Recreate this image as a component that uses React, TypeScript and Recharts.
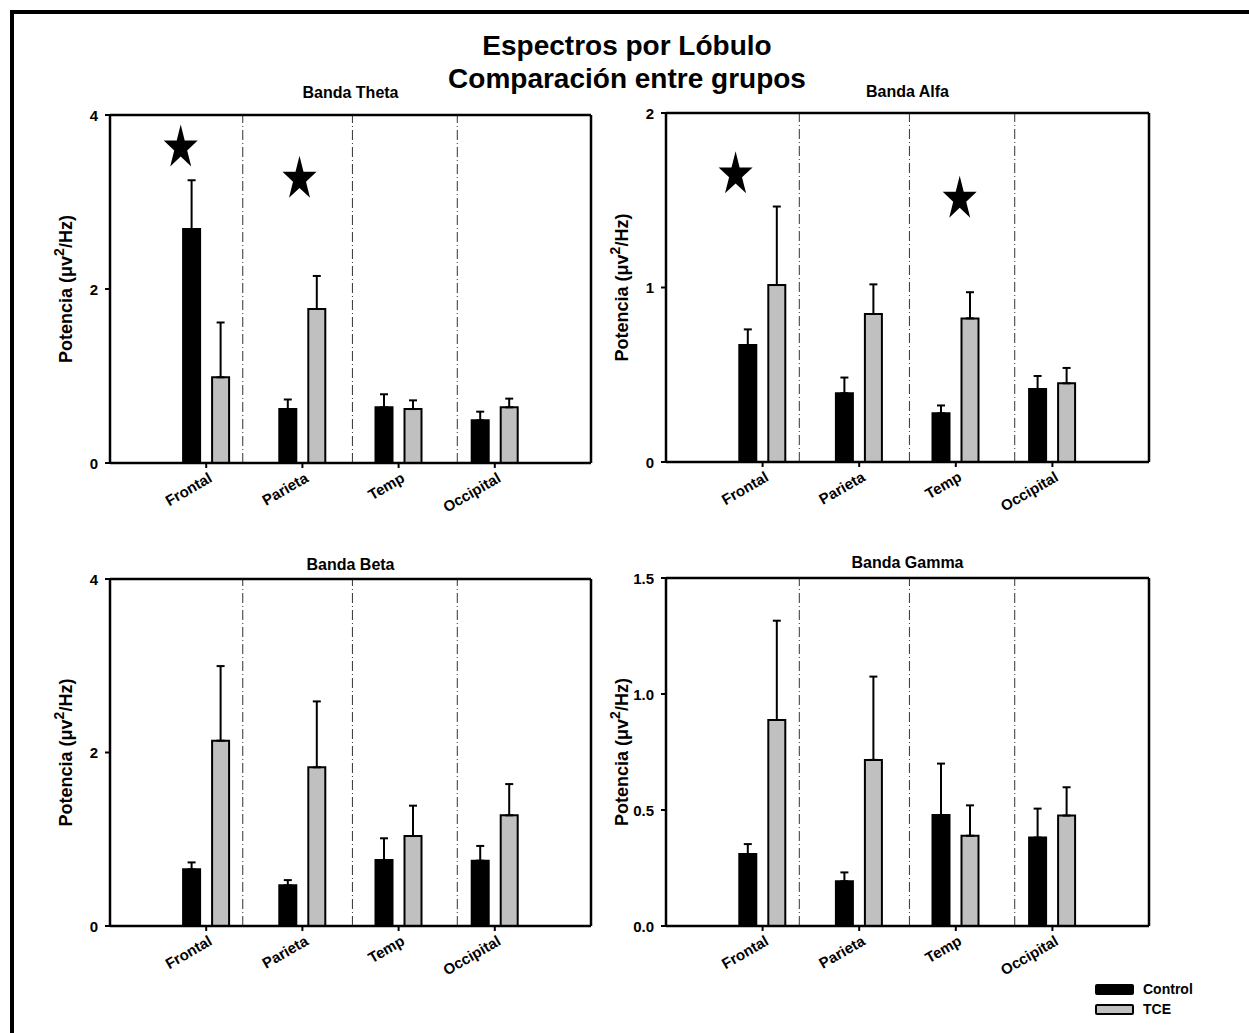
import React from "react";
import { BarChart, Bar, XAxis, YAxis, ErrorBar, ReferenceLine, ReferenceDot } from "recharts";

const FONT = '"Liberation Sans", Arial, Helvetica, sans-serif';

const lobes = ["Frontal", "Parieta", "Temp", "Occipital"];

// Banda Theta
const thetaControl = [2.69, 0.62, 0.64, 0.49];
const thetaControlErr = [0.56, 0.11, 0.15, 0.1];
const thetaTce = [0.985, 1.77, 0.62, 0.64];
const thetaTceErr = [0.63, 0.38, 0.1, 0.1];

// Banda Alfa
const alfaControl = [0.67, 0.394, 0.279, 0.418];
const alfaControlErr = [0.09, 0.09, 0.045, 0.075];
const alfaTce = [1.014, 0.848, 0.823, 0.451];
const alfaTceErr = [0.45, 0.17, 0.15, 0.088];

// Banda Beta
const betaControl = [0.653, 0.469, 0.761, 0.753];
const betaControlErr = [0.08, 0.06, 0.25, 0.17];
const betaTce = [2.136, 1.829, 1.037, 1.276];
const betaTceErr = [0.86, 0.76, 0.35, 0.36];

// Banda Gamma
const gammaControl = [0.31, 0.193, 0.478, 0.381];
const gammaControlErr = [0.043, 0.038, 0.222, 0.125];
const gammaTce = [0.888, 0.716, 0.389, 0.476];
const gammaTceErr = [0.428, 0.359, 0.131, 0.122];

// significance stars (x in category units, 1 = Frontal ... 4 = Occipital)
const thetaStars = [
  { x: 0.735, y: 3.65 },
  { x: 1.97, y: 3.29 },
];
const alfaStars = [
  { x: 0.72, y: 1.66 },
  { x: 3.04, y: 1.52 },
];

// dash-dot separators between lobes
const dividers = [1.38, 2.52, 3.61];

const YW = 70;
const MR = 10;
const MT = 35;
const XH = 55;
const MB = 5;

const buildRows = (control: number[], controlErr: number[], tce: number[], tceErr: number[]) =>
  lobes.map((lobe, i) => ({
    lobe,
    pos: i + 1,
    control: control[i],
    controlErr: [0, controlErr[i]],
    tce: tce[i],
    tceErr: [0, tceErr[i]],
  }));

const StarShape = (props: any) => {
  const { cx, cy } = props;
  const w = 34;
  const h = 42;
  const pts: string[] = [];
  for (let k = 0; k < 10; k++) {
    const a = ((-90 + 36 * k) * Math.PI) / 180;
    const r = k % 2 === 0 ? 1 : 0.382;
    const x = cx + ((r * Math.cos(a)) / 0.951) * (w / 2);
    const y = cy + ((r * Math.sin(a) + 0.0955) / 1.809) * h;
    pts.push(`${x.toFixed(1)},${y.toFixed(1)}`);
  }
  return <polygon points={pts.join(" ")} fill="#000" stroke="none" />;
};

const LobeTick = (props: any) => {
  const { x, y, payload } = props;
  return (
    <g transform={`translate(${x},${y})`}>
      <text
        x={7}
        y={11}
        textAnchor="end"
        transform="rotate(-30 7 11)"
        fill="#000"
        style={{ fontFamily: FONT, fontWeight: 700, fontSize: 15 }}
      >
        {payload.value}
      </text>
    </g>
  );
};

const ValueTick = (props: any) => {
  const { x, y, payload, decimals } = props;
  return (
    <text
      x={x}
      y={y}
      textAnchor="end"
      dominantBaseline="central"
      fill="#000"
      style={{ fontFamily: FONT, fontWeight: 700, fontSize: 15 }}
    >
      {Number(payload.value).toFixed(decimals)}
    </text>
  );
};

const YLabel = (props: any) => {
  const { viewBox } = props;
  const x = viewBox.x + viewBox.width - 44;
  const y = viewBox.y + viewBox.height / 2;
  return (
    <text
      x={x}
      y={y}
      transform={`rotate(-90 ${x} ${y})`}
      textAnchor="middle"
      dominantBaseline="central"
      fill="#000"
      style={{ fontFamily: FONT, fontWeight: 700, fontSize: 18 }}
    >
      Potencia (μv
      <tspan dy={-7} fontSize={14}>
        2
      </tspan>
      <tspan dy={7}>/Hz)</tspan>
    </text>
  );
};

interface PanelProps {
  title: string;
  titleBaseline: number;
  left: number;
  top: number;
  width: number;
  height: number;
  control: number[];
  controlErr: number[];
  tce: number[];
  tceErr: number[];
  yMax: number;
  yTicks: number[];
  decimals: number;
  stars?: { x: number; y: number }[];
}

const Panel: React.FC<PanelProps> = (p) => {
  const data = buildRows(p.control, p.controlErr, p.tce, p.tceErr);
  const pw = p.width - YW - MR;
  const frame = { stroke: "#000", strokeWidth: 2.5 };
  return (
    <>
      <div
        style={{
          position: "absolute",
          left: p.left + YW,
          width: pw,
          top: p.titleBaseline - 13.5,
          lineHeight: "16px",
          fontSize: 16,
          fontWeight: 700,
          fontFamily: FONT,
          textAlign: "center",
        }}
      >
        {p.title}
      </div>
      <div style={{ position: "absolute", left: p.left, top: p.top }}>
        <BarChart
          width={p.width}
          height={p.height}
          data={data}
          margin={{ top: MT, right: MR, left: 0, bottom: MB }}
          barSize={17}
          barGap={12}
        >
          <XAxis
            xAxisId="cat"
            dataKey="lobe"
            height={XH}
            padding={{ left: pw / 10, right: pw / 10 }}
            axisLine={frame}
            tickLine={{ stroke: "#000", strokeWidth: 2 }}
            tickSize={5}
            tick={<LobeTick />}
            interval={0}
          />
          <XAxis
            xAxisId="num"
            dataKey="pos"
            type="number"
            domain={[0, 5]}
            allowDataOverflow
            hide
          />
          <YAxis
            yAxisId="l"
            width={YW}
            domain={[0, p.yMax]}
            ticks={p.yTicks}
            allowDataOverflow
            axisLine={frame}
            tickLine={{ stroke: "#000", strokeWidth: 2 }}
            tickSize={5}
            tickMargin={7}
            tick={<ValueTick decimals={p.decimals} />}
            label={<YLabel />}
          />
          {dividers.map((d) => (
            <ReferenceLine
              key={d}
              xAxisId="num"
              yAxisId="l"
              x={d}
              stroke="#333"
              strokeWidth={1}
              strokeDasharray="10 3 1 3"
            />
          ))}
          <Bar
            xAxisId="cat"
            yAxisId="l"
            dataKey="control"
            fill="#000"
            stroke="#000"
            strokeWidth={2}
            isAnimationActive={false}
          >
            <ErrorBar dataKey="controlErr" direction="y" width={4} stroke="#000" strokeWidth={2} />
          </Bar>
          <Bar
            xAxisId="cat"
            yAxisId="l"
            dataKey="tce"
            fill="#c0c0c0"
            stroke="#000"
            strokeWidth={2}
            isAnimationActive={false}
          >
            <ErrorBar dataKey="tceErr" direction="y" width={4} stroke="#000" strokeWidth={2} />
          </Bar>
          <ReferenceLine xAxisId="num" yAxisId="l" y={p.yMax} stroke="#000" strokeWidth={2.5} />
          <ReferenceLine xAxisId="num" yAxisId="l" x={5} stroke="#000" strokeWidth={2.5} />
          {(p.stars || []).map((s, i) => (
            <ReferenceDot
              key={i}
              xAxisId="num"
              yAxisId="l"
              x={s.x}
              y={s.y}
              r={1}
              shape={<StarShape />}
            />
          ))}
        </BarChart>
      </div>
    </>
  );
};

const LegendRow: React.FC<{ top: number; fill: string; label: string }> = ({ top, fill, label }) => (
  <div style={{ position: "absolute", left: 1095, top, display: "flex", alignItems: "center" }}>
    <div
      style={{
        width: 35,
        height: 7,
        background: fill,
        border: "2px solid #000",
        borderRadius: 2,
      }}
    />
    <span
      style={{
        marginLeft: 9,
        fontFamily: FONT,
        fontWeight: 700,
        fontSize: 14,
        lineHeight: "14px",
      }}
    >
      {label}
    </span>
  </div>
);

export default function App() {
  return (
    <div
      style={{
        position: "absolute",
        left: 0,
        top: 0,
        width: 1249,
        height: 1033,
        background: "#fff",
        overflow: "hidden",
        fontFamily: FONT,
      }}
    >
      <div
        style={{
          position: "absolute",
          left: 10,
          top: 10,
          width: 1300,
          height: 1100,
          borderTop: "4px solid #000",
          borderLeft: "4px solid #000",
        }}
      />
      <div
        style={{
          position: "absolute",
          left: 0,
          width: 1254,
          top: 29,
          textAlign: "center",
          fontSize: 28,
          lineHeight: "33px",
          fontWeight: 700,
        }}
      >
        Espectros por Lóbulo
        <br />
        Comparación entre grupos
      </div>
      <Panel
        title="Banda Theta"
        titleBaseline={98}
        left={40}
        top={80}
        width={561}
        height={443}
        control={thetaControl}
        controlErr={thetaControlErr}
        tce={thetaTce}
        tceErr={thetaTceErr}
        yMax={4}
        yTicks={[0, 2, 4]}
        decimals={0}
        stars={thetaStars}
      />
      <Panel
        title="Banda Alfa"
        titleBaseline={97}
        left={596}
        top={78}
        width={563}
        height={444}
        control={alfaControl}
        controlErr={alfaControlErr}
        tce={alfaTce}
        tceErr={alfaTceErr}
        yMax={2}
        yTicks={[0, 1, 2]}
        decimals={0}
        stars={alfaStars}
      />
      <Panel
        title="Banda Beta"
        titleBaseline={570}
        left={40}
        top={544}
        width={561}
        height={442}
        control={betaControl}
        controlErr={betaControlErr}
        tce={betaTce}
        tceErr={betaTceErr}
        yMax={4}
        yTicks={[0, 2, 4]}
        decimals={0}
      />
      <Panel
        title="Banda Gamma"
        titleBaseline={568}
        left={596}
        top={543}
        width={563}
        height={443}
        control={gammaControl}
        controlErr={gammaControlErr}
        tce={gammaTce}
        tceErr={gammaTceErr}
        yMax={1.5}
        yTicks={[0, 0.5, 1, 1.5]}
        decimals={1}
      />
      <LegendRow top={982} fill="#000" label="Control" />
      <LegendRow top={1002} fill="#c0c0c0" label="TCE" />
    </div>
  );
}
